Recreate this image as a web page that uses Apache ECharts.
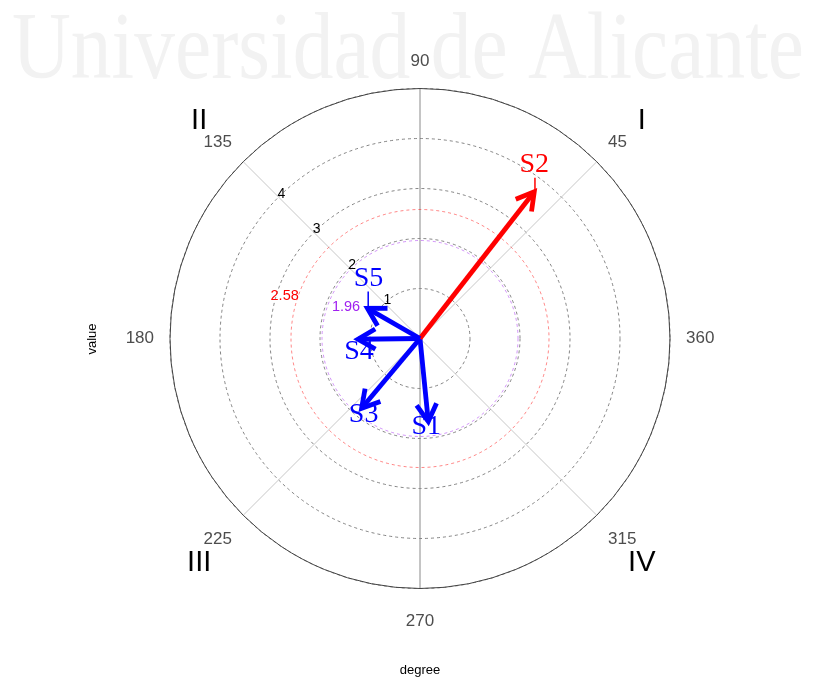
<!DOCTYPE html>
<html>
<head>
<meta charset="utf-8">
<title>Polar vector plot</title>
<script src="https://cdn.jsdelivr.net/npm/echarts@6/dist/echarts.min.js"></script>
<style>
  html, body { margin: 0; padding: 0; background: #ffffff; }
  #chart { width: 813px; height: 680px; }
</style>
</head>
<body>
<div id="chart"></div>
<script>
// Vectors: magnitude (radial units) and direction (degrees, counter-clockwise from east)
const vectorNames = ['S1', 'S2', 'S3', 'S4', 'S5'];
const vectorMagnitudes = [1.67, 3.72, 1.82, 1.24, 1.21];
const vectorAngles = [275.7, 52.1, 230.1, 180.7, 150.2];

// Significance reference circles
const thresholdValues = [1.96, 2.58];
const thresholdColors = ['#A020F0', '#FF0000'];

// Radial grid labels and quadrant names
const radiusTickLabels = [1, 2, 3, 4];
const quadrantLabels = ['I', 'II', 'III', 'IV'];
const quadrantAngles = [45, 135, 225, 315];

// ---- layout & style ----
const CX = 420, CY = 338.5, R = 250, R_MAX = 5;
const QUAD_R = 313, QUAD_DY = 3.5;
const SANS = '"Liberation Sans", Arial, sans-serif';
const SERIF = '"Liberation Serif", "Times New Roman", serif';
const labelNudge = [
  { dx: -2, dy: 5 },
  { dx: 0, dy: -27, leader: true },
  { dx: 2, dy: 6 },
  { dx: 1, dy: 12 },
  { dx: 1, dy: -30, leader: true, hook: 19 }
];
const thresholdLabelAngle = 160;
const thresholdLabelLayout = [
  { align: 'left', dx: 4, dy: 2 },
  { align: 'right', dx: 0, dy: 2 }
];

const chart = echarts.init(document.getElementById('chart'));

// Fit the watermark across the page width
const measureCtx = document.createElement('canvas').getContext('2d');
const wmFont = '96px ' + SERIF;
measureCtx.font = wmFont;
const wmText = 'Universidad de Alicante';
const wmScale = 792 / measureCtx.measureText(wmText).width;

function vectorColor(v) {
  return v > thresholdValues[1] ? '#FF0000' : '#0000FF';
}

function renderVector(params, api) {
  const i = params.dataIndex;
  const r = api.value(0), a = api.value(1);
  const o = api.coord([0, a]);
  const p = api.coord([r, a]);
  const color = vectorColor(r);
  const dx = p[0] - o[0], dy = p[1] - o[1];
  const len = Math.hypot(dx, dy);
  const vx = -dx / len, vy = -dy / len;
  const head = 20, spread = Math.PI / 6;
  const barb = s => [
    p[0] + head * (vx * Math.cos(s) - vy * Math.sin(s)),
    p[1] + head * (vx * Math.sin(s) + vy * Math.cos(s))
  ];
  const nudge = labelNudge[i];
  const lx = p[0] + nudge.dx, ly = p[1] + nudge.dy;
  const children = [
    {
      type: 'line',
      shape: { x1: o[0], y1: o[1], x2: p[0], y2: p[1] },
      style: { stroke: color, lineWidth: 4.8, lineCap: 'butt' }
    },
    {
      type: 'polyline',
      shape: { points: [barb(spread), p, barb(-spread)] },
      style: { stroke: color, fill: null, lineWidth: 4.8, lineJoin: 'miter' }
    }
  ];
  if (nudge.leader) {
    children.push({
      type: 'line',
      shape: { x1: p[0] + 0.7, y1: ly + 13, x2: p[0] + 0.7, y2: p[1] - 1.5 },
      style: { stroke: color, lineWidth: 1.5 }
    });
  }
  if (nudge.hook) {
    children.push({
      type: 'line',
      shape: { x1: p[0], y1: p[1] - 1.8, x2: p[0] + nudge.hook, y2: p[1] - 1.8 },
      style: { stroke: color, lineWidth: 1.5 }
    });
  }
  children.push({
    type: 'text',
    style: {
      text: vectorNames[i], x: lx, y: ly,
      fill: color, font: '28px ' + SERIF,
      align: 'center', verticalAlign: 'middle'
    }
  });
  return { type: 'group', children: children };
}

function renderThreshold(params, api) {
  const i = params.dataIndex;
  const t = api.value(0);
  const o = api.coord([0, 0]);
  const p = api.coord([t, 0]);
  const q = api.coord([t, thresholdLabelAngle]);
  const rad = Math.hypot(p[0] - o[0], p[1] - o[1]);
  const lay = thresholdLabelLayout[i];
  return {
    type: 'group',
    children: [
      {
        type: 'circle',
        shape: { cx: o[0], cy: o[1], r: rad },
        style: { fill: null, stroke: thresholdColors[i], opacity: 0.6, lineWidth: 0.8, lineDash: [3, 3] }
      },
      {
        type: 'text',
        style: {
          text: t.toFixed(2), x: q[0] + lay.dx, y: q[1] + lay.dy,
          fill: thresholdColors[i], font: '14.5px ' + SANS,
          align: lay.align, verticalAlign: 'middle'
        }
      }
    ]
  };
}

const graphics = [
  {
    type: 'text', x: 12, y: 53, scaleX: wmScale, z: -10,
    style: { text: wmText, font: wmFont, fill: '#f2f2f2', align: 'left', verticalAlign: 'middle' }
  },
  {
    type: 'text', x: CX, y: 670,
    style: { text: 'degree', font: '13px ' + SANS, fill: '#000', align: 'center', verticalAlign: 'middle' }
  },
  {
    type: 'text', x: 92.5, y: 339, rotation: Math.PI / 2,
    style: { text: 'value', font: '13px ' + SANS, fill: '#000', align: 'center', verticalAlign: 'middle' }
  }
];
quadrantLabels.forEach((txt, k) => {
  const th = quadrantAngles[k] * Math.PI / 180;
  graphics.push({
    type: 'text',
    x: CX + 0.5 + QUAD_R * Math.cos(th),
    y: CY + QUAD_DY - QUAD_R * Math.sin(th),
    style: { text: txt, font: '29px ' + SANS, fill: '#000', align: 'center', verticalAlign: 'middle' }
  });
});

const hidden = { show: false };
const angleLabelBase = { color: '#4d4d4d', fontSize: 17, fontFamily: SANS };

// Per-direction nudges for the degree labels
function angleLabel(v) {
  if (v === 360) return '';
  if (v === 0) return '360';
  if (v === 90) return '{up|90}';
  if (v === 270) return '{down|270}';
  if (v === 225 || v === 315) return '{low|' + v + '}';
  return String(v);
}

chart.setOption({
  animation: false,
  backgroundColor: '#ffffff',
  graphic: graphics,
  polar: [
    { center: [CX, CY], radius: R },
    { center: [CX, CY], radius: R },
    { center: [CX, CY], radius: R }
  ],
  angleAxis: [
    {
      // main angle scale: outer circle and degree labels
      polarIndex: 0, type: 'value', min: 0, max: 360, interval: 45,
      startAngle: 0, clockwise: false, z: 3,
      axisLine: { show: true, lineStyle: { color: '#444', width: 1 } },
      axisTick: hidden,
      splitLine: hidden,
      axisLabel: Object.assign({
        show: true, margin: 16,
        formatter: angleLabel,
        rich: {
          up: Object.assign({ padding: [0, 0, 3, 0] }, angleLabelBase),
          down: Object.assign({ padding: [8, 0, 0, 0] }, angleLabelBase),
          low: Object.assign({ padding: [4, 0, 0, 0] }, angleLabelBase)
        }
      }, angleLabelBase)
    },
    {
      // diagonal guides at 135, 225, 315, 45 degrees
      polarIndex: 1, type: 'value', min: 0, max: 4, interval: 1,
      startAngle: 135, clockwise: false, z: 1,
      axisLine: hidden, axisTick: hidden, axisLabel: hidden,
      splitLine: { show: true, lineStyle: { color: '#c8c8c8', width: 1, type: 'solid' } }
    },
    {
      // vertical guide through 90 and 270 degrees
      polarIndex: 2, type: 'value', min: 0, max: 2, interval: 1,
      startAngle: 90, clockwise: false, z: 1,
      axisLine: hidden, axisTick: hidden, axisLabel: hidden,
      splitLine: { show: true, lineStyle: { color: '#8a8a8a', width: 1, type: 'solid' } }
    }
  ],
  radiusAxis: [
    {
      polarIndex: 0, type: 'value', min: 0, max: R_MAX, interval: 1, z: 1,
      axisLine: hidden, axisTick: hidden, axisLabel: hidden,
      splitLine: { show: true, lineStyle: { color: '#666', width: 0.8, type: [3, 3] } }
    },
    {
      polarIndex: 1, type: 'value', min: 0, max: R_MAX, interval: 1, z: 4,
      axisLine: hidden, axisTick: hidden, splitLine: hidden,
      axisLabel: {
        show: true, margin: -4, color: '#000', fontSize: 14, fontFamily: SANS,
        align: 'center', verticalAlign: 'middle',
        formatter: v => (radiusTickLabels.indexOf(v) >= 0 ? String(v) : '')
      }
    },
    {
      polarIndex: 2, type: 'value', min: 0, max: R_MAX, interval: 1,
      axisLine: hidden, axisTick: hidden, axisLabel: hidden, splitLine: hidden
    }
  ],
  series: [
    {
      type: 'custom', name: 'thresholds', coordinateSystem: 'polar', polarIndex: 0,
      z: 2, silent: true,
      data: thresholdValues.map(t => [t, 0]),
      renderItem: renderThreshold
    },
    {
      type: 'custom', name: 'vectors', coordinateSystem: 'polar', polarIndex: 0,
      z: 5, silent: true,
      data: vectorNames.map((n, i) => [vectorMagnitudes[i], vectorAngles[i]]),
      renderItem: renderVector
    }
  ]
});
</script>
</body>
</html>
